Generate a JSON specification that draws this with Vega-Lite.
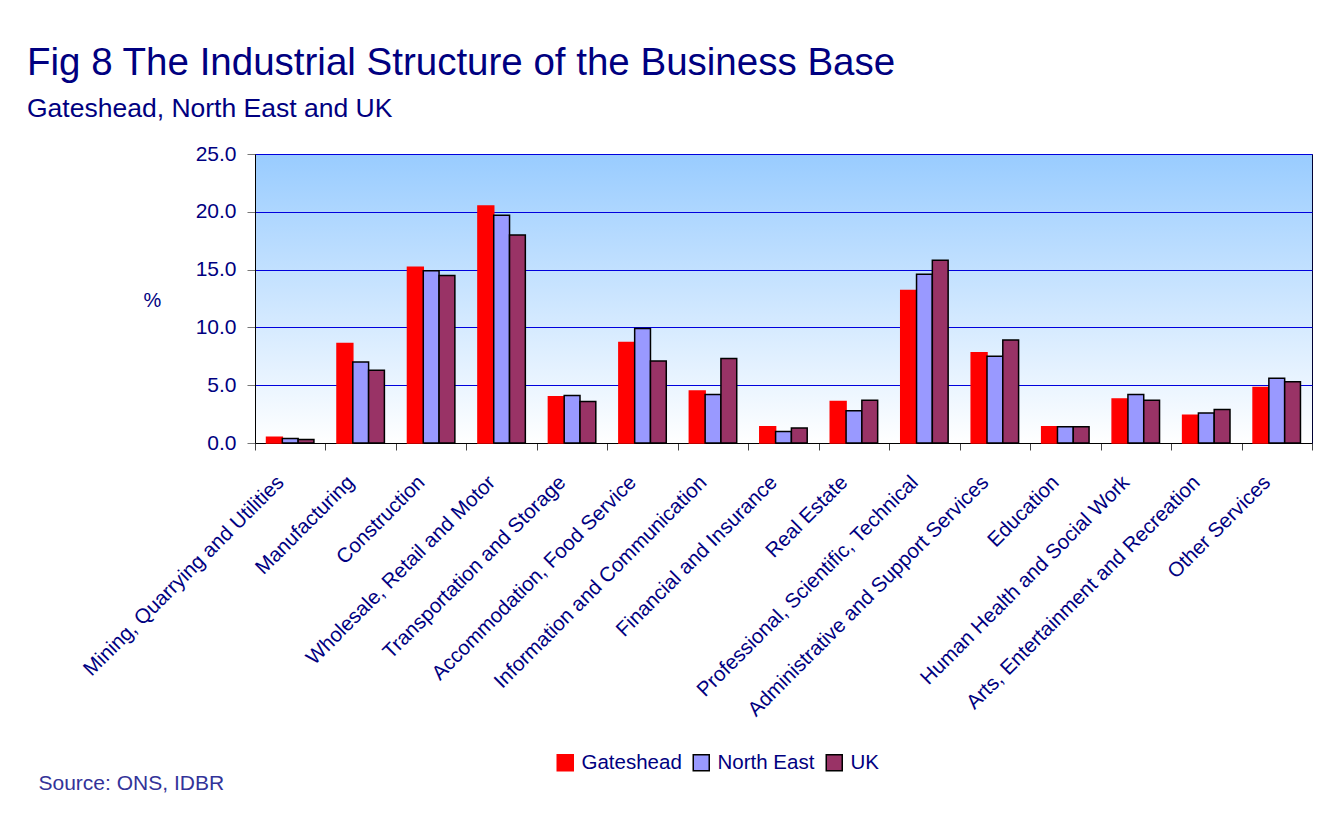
{
  "$schema": "https://vega.github.io/schema/vega-lite/v6.json",
  "width": 1057,
  "height": 289,
  "autosize": {"type": "none"},
  "padding": {"left": 255, "top": 154, "right": 13, "bottom": 371},
  "background": "white",
  "title": {
    "text": "Fig 8 The Industrial Structure of the Business Base",
    "subtitle": "Gateshead, North East and UK",
    "anchor": "start",
    "frame": "group",
    "dx": -228,
    "offset": 20,
    "font": "Liberation Sans",
    "fontSize": 38.5,
    "fontWeight": "normal",
    "color": "#000080",
    "subtitleFont": "Liberation Sans",
    "subtitleFontSize": 26.5,
    "subtitleColor": "#000080",
    "subtitlePadding": 12
  },
  "data": {
    "values": [
      {"industry": "Mining, Quarrying and Utilities", "region": "Gateshead", "pct": 0.5},
      {"industry": "Mining, Quarrying and Utilities", "region": "North East", "pct": 0.4},
      {"industry": "Mining, Quarrying and Utilities", "region": "UK", "pct": 0.3},
      {"industry": "Manufacturing", "region": "Gateshead", "pct": 8.6},
      {"industry": "Manufacturing", "region": "North East", "pct": 7.0},
      {"industry": "Manufacturing", "region": "UK", "pct": 6.3},
      {"industry": "Construction", "region": "Gateshead", "pct": 15.2},
      {"industry": "Construction", "region": "North East", "pct": 14.9},
      {"industry": "Construction", "region": "UK", "pct": 14.5},
      {"industry": "Wholesale, Retail and Motor", "region": "Gateshead", "pct": 20.5},
      {"industry": "Wholesale, Retail and Motor", "region": "North East", "pct": 19.7},
      {"industry": "Wholesale, Retail and Motor", "region": "UK", "pct": 18.0},
      {"industry": "Transportation and Storage", "region": "Gateshead", "pct": 4.0},
      {"industry": "Transportation and Storage", "region": "North East", "pct": 4.1},
      {"industry": "Transportation and Storage", "region": "UK", "pct": 3.6},
      {"industry": "Accommodation, Food Service", "region": "Gateshead", "pct": 8.7},
      {"industry": "Accommodation, Food Service", "region": "North East", "pct": 9.9},
      {"industry": "Accommodation, Food Service", "region": "UK", "pct": 7.1},
      {"industry": "Information and Communication", "region": "Gateshead", "pct": 4.5},
      {"industry": "Information and Communication", "region": "North East", "pct": 4.2},
      {"industry": "Information and Communication", "region": "UK", "pct": 7.3},
      {"industry": "Financial and Insurance", "region": "Gateshead", "pct": 1.4},
      {"industry": "Financial and Insurance", "region": "North East", "pct": 1.0},
      {"industry": "Financial and Insurance", "region": "UK", "pct": 1.3},
      {"industry": "Real Estate", "region": "Gateshead", "pct": 3.6},
      {"industry": "Real Estate", "region": "North East", "pct": 2.8},
      {"industry": "Real Estate", "region": "UK", "pct": 3.7},
      {"industry": "Professional, Scientific, Technical", "region": "Gateshead", "pct": 13.2},
      {"industry": "Professional, Scientific, Technical", "region": "North East", "pct": 14.6},
      {"industry": "Professional, Scientific, Technical", "region": "UK", "pct": 15.8},
      {"industry": "Administrative and Support Services", "region": "Gateshead", "pct": 7.8},
      {"industry": "Administrative and Support Services", "region": "North East", "pct": 7.5},
      {"industry": "Administrative and Support Services", "region": "UK", "pct": 8.9},
      {"industry": "Education", "region": "Gateshead", "pct": 1.4},
      {"industry": "Education", "region": "North East", "pct": 1.4},
      {"industry": "Education", "region": "UK", "pct": 1.4},
      {"industry": "Human Health and Social Work", "region": "Gateshead", "pct": 3.8},
      {"industry": "Human Health and Social Work", "region": "North East", "pct": 4.2},
      {"industry": "Human Health and Social Work", "region": "UK", "pct": 3.7},
      {"industry": "Arts, Entertainment and Recreation", "region": "Gateshead", "pct": 2.4},
      {"industry": "Arts, Entertainment and Recreation", "region": "North East", "pct": 2.6},
      {"industry": "Arts, Entertainment and Recreation", "region": "UK", "pct": 2.9},
      {"industry": "Other Services", "region": "Gateshead", "pct": 4.8},
      {"industry": "Other Services", "region": "North East", "pct": 5.6},
      {"industry": "Other Services", "region": "UK", "pct": 5.3}
    ]
  },
  "mark": {"type": "bar", "strokeWidth": 1.5},
  "encoding": {
    "x": {
      "field": "industry",
      "type": "nominal",
      "sort": null,
      "scale": {"paddingInner": 0, "paddingOuter": 0},
      "axis": {
        "title": "Source: ONS, IDBR",
        "titleX": -217,
        "titleY": 340,
        "titleAlign": "left",
        "titleBaseline": "middle",
        "titleAngle": 0,
        "titleColor": "#333399",
        "titleFont": "Liberation Sans",
        "titleFontSize": 21,
        "titleFontWeight": "normal",
        "labelAngle": -45,
        "labelAlign": "right",
        "labelBaseline": "middle",
        "labelFont": "Liberation Sans",
        "labelFontSize": 20.5,
        "labelColor": "#000080",
        "labelPadding": 29,
        "labelOffset": -10,
        "labelLimit": 0,
        "tickSize": 7,
        "tickColor": "#444444",
        "tickBand": "extent",
        "domainColor": "#000000",
        "grid": false
      }
    },
    "xOffset": {
      "field": "region",
      "type": "nominal",
      "sort": ["Gateshead", "North East", "UK"],
      "scale": {"paddingInner": 0, "paddingOuter": 0.73}
    },
    "y": {
      "field": "pct",
      "type": "quantitative",
      "scale": {"domain": [0, 25], "nice": false},
      "axis": {
        "values": [0, 5, 10, 15, 20, 25],
        "format": ".1f",
        "labelFont": "Liberation Sans",
        "labelFontSize": 21,
        "labelColor": "#000080",
        "labelPadding": 11,
        "tickSize": 8,
        "tickColor": "#777777",
        "domainColor": "#000000",
        "gridColor": "#0000DD",
        "gridWidth": 1,
        "title": "%",
        "titleAngle": 0,
        "titleX": -103,
        "titleY": 146,
        "titleAlign": "center",
        "titleBaseline": "middle",
        "titleFont": "Liberation Sans",
        "titleFontSize": 20,
        "titleFontWeight": "normal",
        "titleColor": "#000080"
      }
    },
    "color": {
      "field": "region",
      "type": "nominal",
      "scale": {"domain": ["Gateshead", "North East", "UK"], "range": ["#FF0000", "#9999FF", "#993366"]},
      "legend": {
        "title": null,
        "orient": "none",
        "legendX": 300,
        "legendY": 598,
        "direction": "horizontal",
        "symbolType": "square",
        "symbolSize": 256,
        "symbolStrokeWidth": 1.5,
        "labelFont": "Liberation Sans",
        "labelFontSize": 20.5,
        "labelColor": "#000080",
        "labelOffset": 6,
        "columnPadding": 8
      }
    },
    "stroke": {
      "field": "region",
      "type": "nominal",
      "scale": {"domain": ["Gateshead", "North East", "UK"], "range": ["#FF0000", "#000000", "#000000"]},
      "legend": {
        "title": null,
        "orient": "none",
        "legendX": 300,
        "legendY": 598,
        "direction": "horizontal",
        "symbolType": "square",
        "symbolSize": 256,
        "symbolStrokeWidth": 1.5,
        "labelFont": "Liberation Sans",
        "labelFontSize": 20.5,
        "labelColor": "#000080",
        "labelOffset": 6,
        "columnPadding": 8
      }
    }
  },
  "config": {
    "view": {
      "stroke": "#000033",
      "strokeWidth": 1,
      "fill": {
        "gradient": "linear",
        "x1": 0, "y1": 0, "x2": 0, "y2": 1,
        "stops": [
          {"offset": 0, "color": "#99CCFF"},
          {"offset": 1, "color": "#FFFFFF"}
        ]
      }
    }
  }
}
